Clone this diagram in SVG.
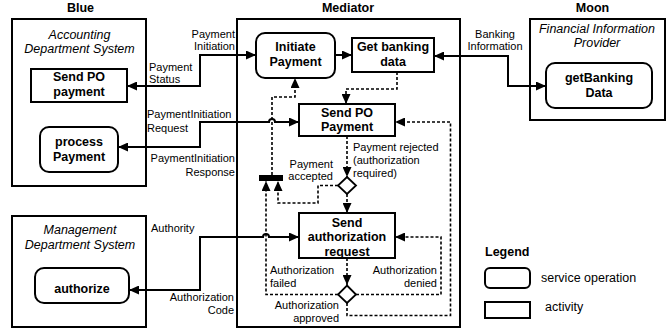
<svg xmlns="http://www.w3.org/2000/svg" width="671" height="329" viewBox="0 0 671 329">
  <defs>
    <marker id="arrow" markerUnits="userSpaceOnUse" markerWidth="10" markerHeight="9" refX="10" refY="4.5" orient="auto-start-reverse" viewBox="0 0 10 9">
      <path d="M0,0 L10,4.5 L0,9 z" fill="#000"/>
    </marker>
  </defs>
  <style>
    text { font-family: "Liberation Sans", Arial, sans-serif; fill: #000; }
    .title { font-size: 12.5px; font-weight: bold; text-anchor: middle; }
    .sys { font-size: 12.5px; font-style: italic; text-anchor: middle; }
    .node { font-size: 12.5px; font-weight: bold; text-anchor: middle; }
    .lbl { font-size: 11px; }
    .end { text-anchor: end; }
    .mid { text-anchor: middle; }
    .leg { font-size: 12.5px; }
    .frame { fill: #fff; stroke: #000; stroke-width: 2; }
    .box { fill: #fff; stroke: #000; stroke-width: 2; }
    .solid { fill: none; stroke: #000; stroke-width: 2; }
    .dash { fill: none; stroke: #000; stroke-width: 1.6; stroke-dasharray: 3 2; }
    .arr { marker-end: url(#arrow); }
    .arr2 { marker-start: url(#arrow); marker-end: url(#arrow); }
    .gate { fill: #fff; stroke: #000; stroke-width: 1.8; }
  </style>
  <rect width="671" height="329" fill="#fff"/>

  <!-- Participants -->
  <g id="blue">
    <text class="title" x="80.5" y="12">Blue</text>
    <rect class="frame" x="12" y="19" width="134" height="167"/>
    <text class="sys" x="79.5" y="38.5">Accounting</text>
    <text class="sys" x="79.5" y="53">Department System</text>
  </g>
  <g id="management">
    <rect class="frame" x="12" y="216" width="134" height="111"/>
    <text class="sys" x="80" y="234">Management</text>
    <text class="sys" x="80" y="248.5">Department System</text>
  </g>
  <g id="mediator">
    <text class="title" x="348" y="12">Mediator</text>
    <rect class="frame" x="237" y="19" width="223" height="308"/>
  </g>
  <g id="moon">
    <text class="title" x="592.5" y="12">Moon</text>
    <rect class="frame" x="530" y="19" width="135" height="101"/>
    <text class="sys" x="597" y="33">Financial Information</text>
    <text class="sys" x="597" y="47">Provider</text>
  </g>

  <!-- Connectors -->
  <g id="connectors">
    <path class="solid arr2" d="M256,55 H200 V86 H127"/>
    <path class="solid arr" d="M335,55 H352"/>
    <path class="solid arr2" d="M434,56 H508 V86 H546"/>
    <path class="solid arr2" d="M299,122 H275 A3,3 0 0 0 269,122 H200 V147 H118"/>
    <path class="solid arr2" d="M299,237 H269 A3,3 0 0 0 263,237 H200 V290 H129"/>

    <path class="dash arr" d="M397,72 V89 H346 V104"/>
    <path class="dash arr" d="M272,175 V97 H295 V78"/>
    <path class="dash arr" d="M347,136 V177"/>
    <path class="dash arr" d="M347,194 V213"/>
    <path class="dash arr" d="M338,185.5 H318 V203 H278 V181"/>
    <path class="dash arr" d="M347,258 V285"/>
    <path class="dash arr" d="M338,294.5 H266 V181"/>
    <path class="dash arr" d="M356,294.5 H441 V237 H395"/>
    <path class="dash arr" d="M347,303 V315.5 H450.5 V122 H395"/>
  </g>

  <!-- Nodes -->
  <g id="send-po-payment-blue">
    <rect class="box" x="31" y="69" width="96" height="33"/>
    <text class="node" x="79" y="81">Send PO</text>
    <text class="node" x="79" y="95.5">payment</text>
  </g>
  <g id="process-payment">
    <rect class="box" x="40" y="127" width="78" height="45" rx="9"/>
    <text class="node" x="79" y="146">process</text>
    <text class="node" x="79" y="161">Payment</text>
  </g>
  <g id="authorize">
    <rect class="box" x="35" y="268" width="94" height="35" rx="9"/>
    <text class="node" x="82" y="293">authorize</text>
  </g>
  <g id="initiate-payment">
    <rect class="box" x="256" y="33" width="79" height="45" rx="9"/>
    <text class="node" x="295.5" y="51">Initiate</text>
    <text class="node" x="295.5" y="66">Payment</text>
  </g>
  <g id="get-banking-data">
    <rect class="box" x="352" y="38" width="82" height="34"/>
    <text class="node" x="393" y="51">Get banking</text>
    <text class="node" x="393" y="66">data</text>
  </g>
  <g id="send-po-payment">
    <rect class="box" x="299" y="104" width="96" height="32"/>
    <text class="node" x="347" y="117">Send PO</text>
    <text class="node" x="347" y="131">Payment</text>
  </g>
  <g id="send-authorization-request">
    <rect class="box" x="299" y="213" width="96" height="45"/>
    <text class="node" x="347" y="226.5">Send</text>
    <text class="node" x="347" y="241">authorization</text>
    <text class="node" x="347" y="255.5">request</text>
  </g>
  <g id="get-banking-data-op">
    <rect class="box" x="546" y="63" width="106" height="45" rx="9"/>
    <text class="node" x="599" y="81.5">getBanking</text>
    <text class="node" x="599" y="96.5">Data</text>
  </g>
  <g id="join-bar">
    <rect x="259" y="175" width="24" height="6" fill="#000"/>
  </g>
  <g id="decision-payment">
    <polygon class="gate" points="347,177 356,185.5 347,194 338,185.5"/>
  </g>
  <g id="decision-authorization">
    <polygon class="gate" points="347,285.5 356,294.5 347,303 338,294.5"/>
  </g>

  <!-- Connector labels -->
  <g id="labels" class="lbl">
    <text class="lbl end" x="235" y="38">Payment</text>
    <text class="lbl end" x="235" y="50">Initiation</text>
    <text class="lbl" x="149" y="71">Payment</text>
    <text class="lbl" x="149" y="83">Status</text>
    <text class="lbl" x="147" y="118">PaymentInitiation</text>
    <text class="lbl" x="147" y="131.5">Request</text>
    <text class="lbl end" x="235" y="162">PaymentInitiation</text>
    <text class="lbl end" x="235" y="175.5">Response</text>
    <text class="lbl" x="151" y="231.5">Authority</text>
    <text class="lbl end" x="234" y="300.5">Authorization</text>
    <text class="lbl end" x="234" y="314">Code</text>
    <text class="lbl mid" x="495" y="37.5">Banking</text>
    <text class="lbl mid" x="495" y="50">Information</text>
    <text class="lbl end" x="333" y="167.5">Payment</text>
    <text class="lbl end" x="333" y="180">accepted</text>
    <text class="lbl" x="353" y="151">Payment rejected</text>
    <text class="lbl" x="353" y="164">(authorization</text>
    <text class="lbl" x="353" y="177">required)</text>
    <text class="lbl" x="270" y="274">Authorization</text>
    <text class="lbl" x="270" y="287">failed</text>
    <text class="lbl end" x="437" y="274">Authorization</text>
    <text class="lbl end" x="437" y="287">denied</text>
    <text class="lbl end" x="339" y="308.5">Authorization</text>
    <text class="lbl end" x="339" y="321.5">approved</text>
  </g>

  <!-- Legend -->
  <g id="legend">
    <text class="leg" x="485" y="256" font-weight="bold">Legend</text>
    <rect class="box" x="485" y="268" width="45" height="20" rx="5"/>
    <text class="leg" x="541" y="282">service operation</text>
    <rect class="box" x="485" y="302" width="45" height="16"/>
    <text class="leg" x="545" y="311">activity</text>
  </g>
</svg>
